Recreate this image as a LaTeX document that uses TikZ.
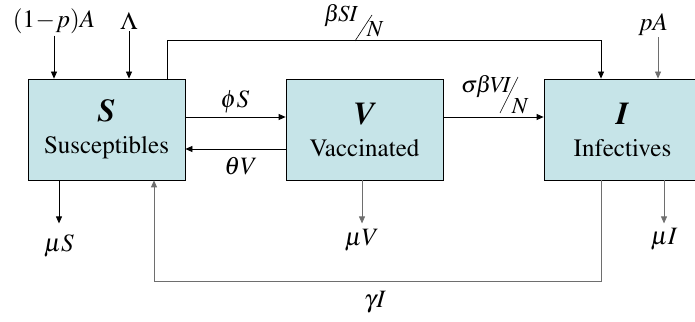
\documentclass[tikz,border=0pt]{standalone}
\usepackage[T1]{fontenc}
\usepackage{mathptmx}
\usetikzlibrary{arrows.meta}
\definecolor{boxblue}{RGB}{198,228,232}
\definecolor{flowgray}{RGB}{110,110,110}
\tikzset{
  comp/.style={draw, fill=boxblue, minimum width=157pt, minimum height=101pt,
    inner sep=0pt, align=center},
  flow/.style={-{Triangle[length=7pt,width=6pt]}},
  rate/.style={anchor=base, inner sep=1pt},
  fracpart/.style={inner sep=0.5pt, font=\fontsize{23}{28}\selectfont},
}
\newcommand{\compname}[2]{{\fontsize{32}{32}\selectfont\textbf{\textit{#1}}}\\#2}
\begin{document}
\begin{tikzpicture}[x=1pt,y=1pt,line width=0.8pt,
  font=\fontsize{25}{32}\selectfont]
\clip (0,0) rectangle (695,321);
% compartments
\node[comp] (S) at (106.5,191.5) {\compname{S}{Susceptibles}};
\node[comp] (V) at (364.5,191.5) {\compname{V}{Vaccinated}};
\node[comp] (I) at (622.5,191.5) {\compname{I}{Infectives}};
% recruitment
\node[rate] (inA) at (54,293) {$(1\mkern-2mu-\mkern-2mu p)A$};
\node[rate] (lam) at (129,291) {$\Lambda$};
\node[rate] (pA) at (653,290) {$pA$};
\draw[flow] (inA) -- (inA |- S.north);
\draw[flow] (lam) -- (lam |- S.north);
\draw[flow,flowgray] ([xshift=5pt]pA.south) -- ([xshift=35.5pt]I.north);
% infection of susceptibles
\draw[flow] ([xshift=60.5pt]S.north) -- ++(0,38) -| ([xshift=-21.5pt]I.north);
\node[fracpart, anchor=base east] (bSI) at (359,299) {$\beta\mkern-1mu S\mkern-0.5mu I$};
\node[fracpart, anchor=base west] (bSIn) at (366,284) {$N$};
\draw[line width=0.6pt] (355,280) -- (372,306);
% vaccination and waning
\draw[flow] ([yshift=12.5pt]S.east) -- ([yshift=12.5pt]V.west);
\draw[flow] ([yshift=-19.5pt]V.west) -- ([yshift=-19.5pt]S.east);
\node[rate] (phiS) at (235,213) {$\phi S$};
\node[rate] (thV) at (241,146) {$\theta V$};
% infection of vaccinated
\draw[flow] ([yshift=12.5pt]V.east) -- ([yshift=12.5pt]I.west);
\node[fracpart, anchor=base east] (sbVI) at (512,228) {$\sigma\mkern-1mu\beta\mkern-1mu V\mkern-3mu I$};
\node[fracpart, anchor=base west] (sbVIn) at (511,207) {$N$};
\draw[line width=0.6pt] (500,208) -- (518,244);
% deaths
\node[rate] (muS) at (59,69) {$\mu S$};
\node[rate] (muV) at (362,75) {$\mu V$};
\node[rate] (muI) at (664,76) {$\mu I$};
\draw[flow] (S.south -| muS) -- ++(0,-43);
\draw[flow,flowgray] (V.south -| muV) -- ++(0,-43);
\draw[flow,flowgray] (I.south -| muI) -- ++(0,-43);
% recovery
\draw[flow,flowgray] ([xshift=-21.5pt]I.south) -- ++(0,-101) -| ([xshift=47.5pt]S.south);
\node[rate] (gI) at (375,14) {$\gamma I$};
\end{tikzpicture}
\end{document}
